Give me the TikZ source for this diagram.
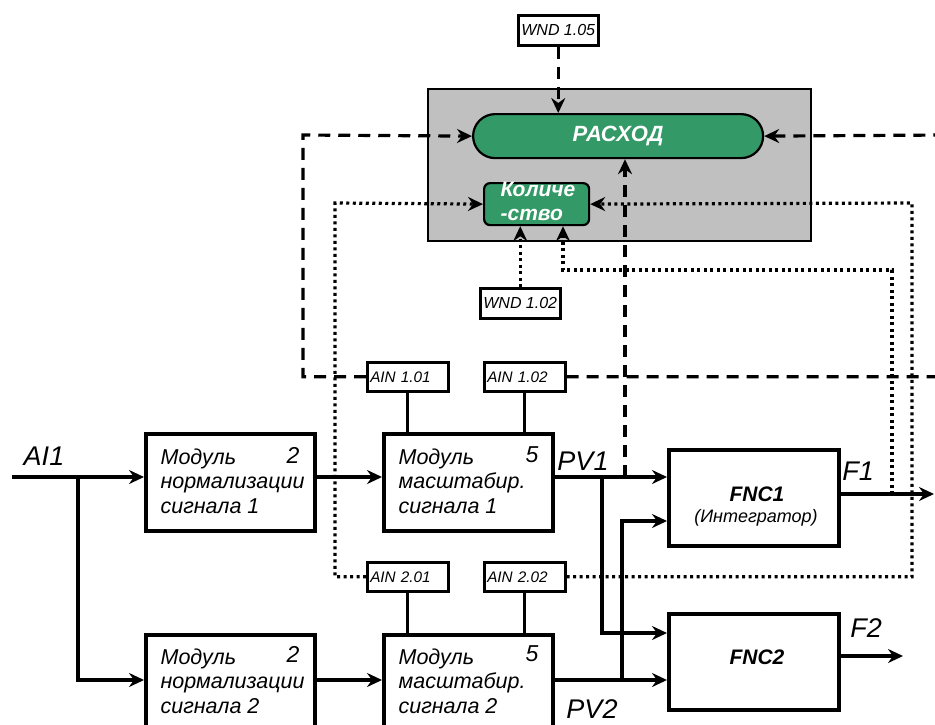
\documentclass[tikz,border=0pt]{standalone}
\usepackage{fontspec}
\setmainfont{Liberation Sans}
\usetikzlibrary{arrows.meta}
\definecolor{grn}{HTML}{339966}
\definecolor{gry}{HTML}{C0C0C0}
\begin{document}
\begin{tikzpicture}[x=1pt,y=-1pt,line width=3.2pt,
  arr/.style={-{Stealth[length=15pt,width=14pt,inset=5pt]}},
  blk/.style={draw,line width=3.5pt,anchor=north west,inner sep=0pt},
  ain/.style={draw,line width=2.5pt,anchor=north west,minimum width=81pt,minimum height=29pt,inner sep=0pt,text width=75pt,align=left,font=\fontsize{15.3}{17}\selectfont\itshape},
  wnd/.style={draw,line width=2.5pt,anchor=north west,minimum width=80pt,minimum height=30pt,inner sep=0pt,font=\fontsize{16}{18}\selectfont\itshape},
  dsh/.style={dash pattern=on 12pt off 8pt},
  dotl/.style={dash pattern=on 3pt off 3.5pt},
  body/.style={anchor=west,align=left,inner sep=0pt,font=\fontsize{21.5}{24.5}\selectfont\itshape},
  num/.style={inner sep=0pt,font=\fontsize{23}{26}\selectfont\itshape},
  lbl/.style={inner sep=0pt,font=\fontsize{27}{30}\selectfont\itshape},
  wt/.style={text=white,font=\fontsize{22}{24}\selectfont\bfseries\itshape}
]
\clip (0,0) rectangle (935,724);
% control block
\node[draw,fill=gry,line width=2pt,anchor=north west,minimum width=383pt,minimum height=152pt,inner sep=0pt] (g) at (427,88) {};
\node[draw,fill=grn,line width=2.2pt,rounded corners=22pt,anchor=north west,minimum width=290pt,minimum height=44pt,inner sep=0pt,wt] (r) at (472,113) {РАСХОД};
\node[draw,fill=grn,line width=2.2pt,rounded corners=6pt,anchor=north west,minimum width=105pt,minimum height=42pt,inner sep=0pt] (k) at (483,182) {};
\node[text=white,anchor=west,align=left,inner sep=0pt,font=\fontsize{21}{24}\selectfont\bfseries\itshape] (kt) at (499,201) {Количе\\-ство};
\node[wnd] (w5) at (517,14) {WND 1.05};
\node[wnd] (w2) at (479,287) {WND 1.02};
% blocks
\node[blk,minimum width=169pt,minimum height=97pt] (n1) at (144,432) {};
\node[blk,minimum width=169pt,minimum height=97pt] (n2) at (144,633) {};
\node[blk,minimum width=169pt,minimum height=97pt] (s1) at (382,432) {};
\node[blk,minimum width=169pt,minimum height=97pt] (s2) at (382,633) {};
\node[blk,minimum width=170pt,minimum height=96pt] (f1) at (667,448) {};
\node[blk,minimum width=170pt,minimum height=96pt] (f2) at (667,612) {};
\node[ain] (a11) at (366,361) {AIN 1.01};
\node[ain] (a12) at (483,361) {AIN 1.02};
\node[ain] (a21) at (366,561) {AIN 2.01};
\node[ain] (a22) at (483,561) {AIN 2.02};
% texts
\node[body] (n1t) at (159,481) {Модуль\\нормализации\\сигнала 1};
\node[body] (n2t) at (159,681) {Модуль\\нормализации\\сигнала 2};
\node[body] (s1t) at (397,481) {Модуль\\масштабир.\\сигнала 1};
\node[body] (s2t) at (397,681) {Модуль\\масштабир.\\сигнала 2};
\node[num] (n1n) at (293,455) {2};
\node[num] (n2n) at (293,654) {2};
\node[num] (s1n) at (532,455) {5};
\node[num] (s2n) at (532,654) {5};
\node[inner sep=0pt,font=\fontsize{21}{22}\selectfont\bfseries\itshape] (f1t) at (757,494) {FNC1};
\node[inner sep=0pt,font=\fontsize{18}{20}\selectfont\itshape] (f1s) at (756,518) {(Интегратор)};
\node[inner sep=0pt,font=\fontsize{21}{22}\selectfont\bfseries\itshape] (f2t) at (757,657) {FNC2};
\node[lbl] (lai) at (44,456) {AI1};
\node[lbl] (lpv1) at (583,461) {PV1};
\node[lbl] (lpv2) at (592,709) {PV2};
\node[lbl] (lf1) at (858,471) {F1};
\node[lbl] (lf2) at (866,628) {F2};
% coordinates
\coordinate (ai) at (12,477);
\coordinate (br) at (78,477);
\coordinate (p1) at (602,477);
\coordinate (pd) at (625,477);
\coordinate (p2) at (622,680);
\coordinate (y2) at (0,680);
\coordinate (yq) at (0,633);
\coordinate (yr) at (0,521);
\coordinate (fo) at (934,494);
\coordinate (fb) at (892,494);
\coordinate (f2o) at (903,656);
\coordinate (dl) at (303,135);
\coordinate (dr) at (945,135);
\coordinate (ol) at (335,203);
\coordinate (orr) at (912,203);
\coordinate (om) at (563,270);
% solid signal lines
\draw[arr] (ai) -- (ai -| n1.west);
\draw[arr] (br) |- (n2.west |- y2);
\draw[arr] (n1.east |- ai) -- (s1.west |- ai);
\draw[arr] (n2.east |- y2) -- (s2.west |- y2);
\draw[arr] (s1.east |- ai) -- (f1.west |- ai);
\draw[arr] (p1) |- (f2.west |- yq);
\draw[arr] (s2.east |- y2) -- (f2.west |- y2);
\draw[arr] (p2) |- (f1.west |- yr);
\draw[arr] (f1.east |- fo) -- (fo);
\draw[arr] (f2.east |- f2o) -- (f2o);
\draw (a11.south) -- (a11.south |- s1.north);
\draw (a12.south) -- (a12.south |- s1.north);
\draw (a21.south) -- (a21.south |- s2.north);
\draw (a22.south) -- (a22.south |- s2.north);
% dashed
\draw[dsh,arr] (w5.south) -- (w5.south |- r.north);
\draw[dsh,arr] (a11.west) -| (dl) -- (r.west);
\draw[dsh,arr] (a12.east) -| (dr) -- (r.east);
\draw[dsh,arr] (pd) -- (pd |- r.south);
% dotted
\draw[dotl,arr] (a21.west) -| (ol) -- (k.west);
\draw[dotl,arr] (a22.east) -| (orr) -- (k.east);
\draw[dotl,arr] (fb) |- (om) -- (om |- k.south);
\draw[dotl,arr] (w2.north) -- (w2.north |- k.south);
\end{tikzpicture}
\end{document}
